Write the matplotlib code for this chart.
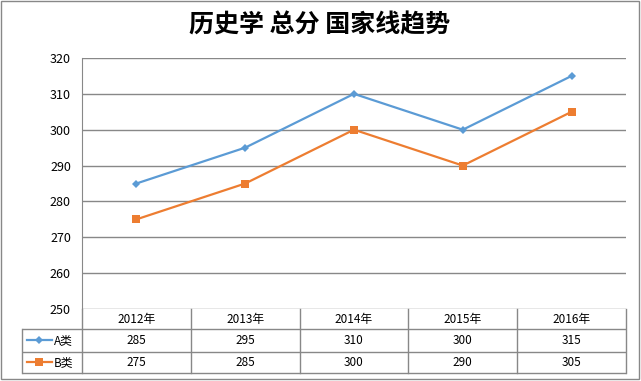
import matplotlib
matplotlib.use('Agg')
import matplotlib.pyplot as plt
import matplotlib.patches as mpatches

plt.rcParams['font.family'] = ['Noto Sans CJK SC', 'DejaVu Sans']

years = ['2012年', '2013年', '2014年', '2015年', '2016年']
series_names = ['A类', 'B类']
a_scores = [285, 295, 310, 300, 315]
b_scores = [275, 285, 300, 290, 305]
y_ticks = [250, 260, 270, 280, 290, 300, 310, 320]

blue = '#5B9BD5'
orange = '#ED7D31'
grid_c = '#888888'

W, H = 641, 381
fig = plt.figure(figsize=(W / 100, H / 100), dpi=100)


def fx(px):
    return px / W


def fy(py):
    return 1 - py / H


# main plot area
left, right, top, bottom = 82, 626, 58, 309
ax = fig.add_axes([fx(left), fy(bottom), fx(right - left), (bottom - top) / H])
xs = [i + 0.5 for i in range(len(years))]
ax.plot(xs, a_scores, color=blue, lw=1.6, marker='D', ms=4.5, mew=0, zorder=3)
ax.plot(xs, b_scores, color=orange, lw=1.6, marker='s', ms=6, mew=0, zorder=3)
ax.set_xlim(0, len(years))
ax.set_ylim(250, 320)
ax.set_yticks(y_ticks)
ax.set_xticks([])
for yv in y_ticks:
    ax.plot([0, len(years)], [yv, yv], color=grid_c, lw=1, zorder=1,
            solid_capstyle='butt', clip_on=True)
for s in ['top', 'right', 'bottom']:
    ax.spines[s].set_visible(False)
ax.spines['left'].set_color(grid_c)
ax.tick_params(axis='y', length=0, pad=8, labelsize=9)

# data table under the plot
tleft, tbottom = 22, 373
tax = fig.add_axes([fx(tleft), fy(tbottom), fx(right - tleft), (tbottom - bottom) / H])
colw = (right - left) / len(years)
lab_w = (left - tleft) / colw
n_rows = 1 + len(series_names)
tax.set_xlim(-lab_w, len(years))
tax.set_ylim(n_rows, 0)
tax.axis('off')

row_edges = [0, 0.95, 2, 3]
for ry in row_edges[1:]:
    tax.plot([-lab_w, len(years)], [ry, ry], color=grid_c, lw=1, clip_on=False,
             solid_capstyle='butt')
tax.plot([-lab_w, -lab_w], [row_edges[1], 3], color=grid_c, lw=1, clip_on=False)
for c in range(len(years) + 1):
    tax.plot([c, c], [0, 3], color=grid_c, lw=1, clip_on=False)

for i, yr in enumerate(years):
    tax.text(i + 0.5, (row_edges[0] + row_edges[1]) / 2, yr, ha='center', va='center', fontsize=8.5)

rows = [(a_scores, blue, 'D', 4.5), (b_scores, orange, 's', 6)]
for r, (vals, col, mk, ms) in enumerate(rows):
    yc = (row_edges[r + 1] + row_edges[r + 2]) / 2
    for i, v in enumerate(vals):
        tax.text(i + 0.5, yc, str(v), ha='center', va='center', fontsize=8.5)
    x0 = -lab_w + 5 / colw
    x1 = -lab_w + 30 / colw
    tax.plot([x0, x1], [yc, yc], color=col, lw=1.6, clip_on=False)
    tax.plot([(x0 + x1) / 2], [yc], color=col, marker=mk, ms=ms, mew=0, clip_on=False)
    tax.text(x1 + 1.5 / colw, yc, series_names[r], ha='left', va='center', fontsize=8.5)

fig.text(fx(320), fy(25), '历史学 总分 国家线趋势', ha='center', va='center',
         fontsize=18, fontweight='bold')

fig.patches.append(mpatches.Rectangle((fx(1), fy(379)), fx(638), (378) / H,
                                      transform=fig.transFigure, fill=False,
                                      edgecolor=grid_c, lw=1))

fig.savefig('out.png', dpi=100)
